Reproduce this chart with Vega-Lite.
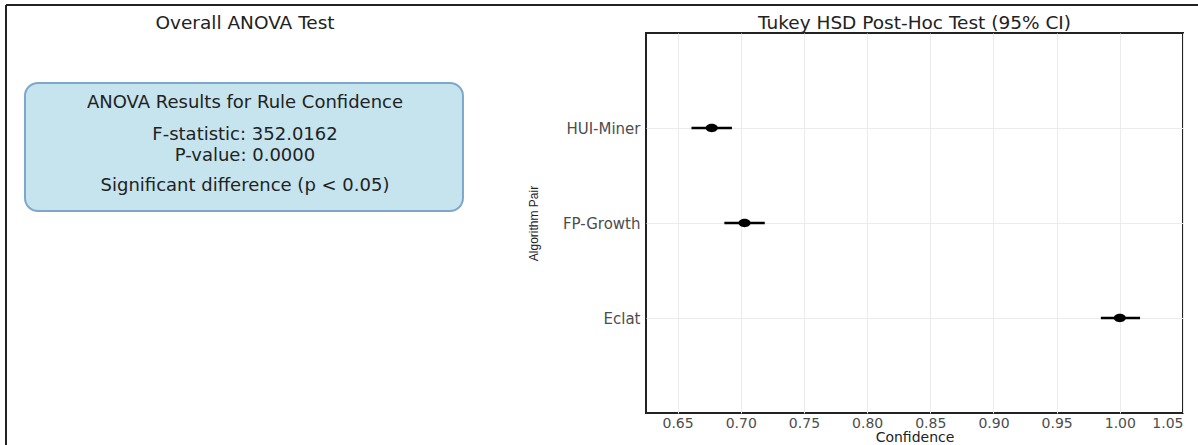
{
  "$schema": "https://vega.github.io/schema/vega-lite/v6.json",
  "background": "white",
  "padding": {"left": 5, "top": 4, "right": 0, "bottom": 0},
  "bounds": "flush",
  "spacing": 162,
  "config": {
    "font": "DejaVu Sans",
    "title": {"fontSize": 18.5, "fontWeight": "normal", "color": "#222222", "anchor": "middle", "offset": 1},
    "text": {"color": "#222222", "align": "center", "baseline": "middle"},
    "axis": {
      "labelFont": "DejaVu Sans",
      "labelFontSize": 15,
      "labelColor": "#4d4d4d",
      "titleFontWeight": "normal",
      "titleColor": "#222222",
      "ticks": false,
      "domain": false,
      "grid": true,
      "gridColor": "#ebebeb",
      "gridWidth": 1
    }
  },
  "datasets": {
    "anova": [
      {
        "panel_title": "Overall ANOVA Test",
        "box_title": "ANOVA Results for Rule Confidence",
        "f_line": "F-statistic: 352.0162",
        "p_line": "P-value: 0.0000",
        "verdict": "Significant difference (p < 0.05)"
      }
    ],
    "tukey": [
      {"algorithm": "HUI-Miner", "estimate": 0.677, "lower": 0.661, "upper": 0.693},
      {"algorithm": "FP-Growth", "estimate": 0.703, "lower": 0.687, "upper": 0.719},
      {"algorithm": "Eclat", "estimate": 1.0, "lower": 0.985, "upper": 1.016}
    ]
  },
  "hconcat": [
    {
      "width": 478,
      "height": 380,
      "view": {"stroke": null},
      "data": {"name": "anova"},
      "layer": [
        {
          "mark": {"type": "rule", "color": "#222222", "strokeWidth": 2},
          "encoding": {
            "x": {"datum": 0, "type": "quantitative", "scale": {"domain": [0, 1], "nice": false, "zero": false}, "axis": null},
            "x2": {"datum": 2.494},
            "y": {"datum": 1.07368, "type": "quantitative", "scale": {"domain": [0, 1], "nice": false, "zero": false}, "axis": null}
          }
        },
        {
          "mark": {"type": "rule", "color": "#222222", "strokeWidth": 2},
          "encoding": {
            "x": {"datum": 0, "type": "quantitative"},
            "y": {"datum": 1.07368, "type": "quantitative"},
            "y2": {"datum": -0.1}
          }
        },
        {
          "mark": {"type": "text", "fontSize": 18.5},
          "encoding": {
            "x": {"datum": 0.5, "type": "quantitative"},
            "y": {"datum": 1.0263, "type": "quantitative"},
            "text": {"field": "panel_title", "type": "nominal"}
          }
        },
        {
          "mark": {"type": "rect", "cornerRadius": 13, "fill": "#c6e4ee", "stroke": "#7ea8cb", "strokeWidth": 2},
          "encoding": {
            "x": {"datum": 0.0397, "type": "quantitative"},
            "x2": {"datum": 0.956},
            "y": {"datum": 0.8684, "type": "quantitative"},
            "y2": {"datum": 0.5316}
          }
        },
        {
          "mark": {"type": "text", "fontSize": 18},
          "encoding": {
            "x": {"datum": 0.5, "type": "quantitative"},
            "y": {"datum": 0.8158, "type": "quantitative"},
            "text": {"field": "box_title", "type": "nominal"}
          }
        },
        {
          "mark": {"type": "text", "fontSize": 18},
          "encoding": {
            "x": {"datum": 0.5, "type": "quantitative"},
            "y": {"datum": 0.7303, "type": "quantitative"},
            "text": {"field": "f_line", "type": "nominal"}
          }
        },
        {
          "mark": {"type": "text", "fontSize": 18},
          "encoding": {
            "x": {"datum": 0.5, "type": "quantitative"},
            "y": {"datum": 0.6776, "type": "quantitative"},
            "text": {"field": "p_line", "type": "nominal"}
          }
        },
        {
          "mark": {"type": "text", "fontSize": 18},
          "encoding": {
            "x": {"datum": 0.5, "type": "quantitative"},
            "y": {"datum": 0.5974, "type": "quantitative"},
            "text": {"field": "verdict", "type": "nominal"}
          }
        }
      ]
    },
    {
      "title": "Tukey HSD Post-Hoc Test (95% CI)",
      "width": 537,
      "height": 380,
      "view": {"stroke": "#222222", "strokeWidth": 2},
      "data": {"name": "tukey"},
      "encoding": {
        "y": {
          "field": "algorithm",
          "type": "nominal",
          "sort": ["HUI-Miner", "FP-Growth", "Eclat"],
          "scale": {"type": "point", "padding": 1},
          "title": "Algorithm Pair",
          "axis": {"labelPadding": 6, "titleFont": "Liberation Sans", "titleFontSize": 12, "titlePadding": 22}
        }
      },
      "layer": [
        {
          "mark": {"type": "rule", "color": "black", "strokeWidth": 2.5},
          "encoding": {
            "x": {
              "field": "lower",
              "type": "quantitative",
              "scale": {"domain": [0.625, 1.05], "nice": false, "zero": false},
              "title": "Confidence",
              "axis": {"values": [0.65, 0.7, 0.75, 0.8, 0.85, 0.9, 0.95, 1.0, 1.05], "format": ".2f", "labelFontSize": 14, "labelPadding": 3, "titleFontSize": 14, "titlePadding": 0}
            },
            "x2": {"field": "upper"}
          }
        },
        {
          "mark": {"type": "point", "filled": true, "opacity": 1, "color": "black", "size": 144, "shape": "M-1,0A1,0.7 0 1,0 1,0A1,0.7 0 1,0 -1,0Z"},
          "encoding": {
            "x": {"field": "estimate", "type": "quantitative"}
          }
        }
      ]
    }
  ]
}
